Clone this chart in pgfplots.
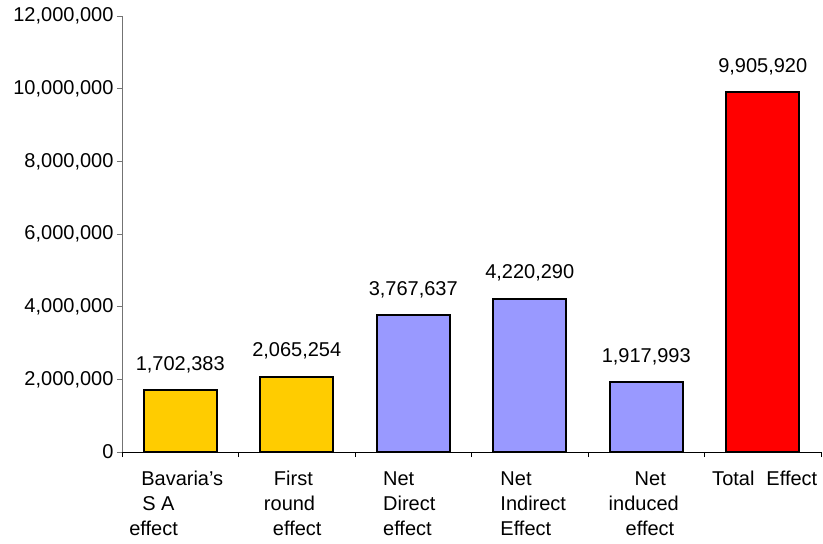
\documentclass[border=0pt]{standalone}
\usepackage{pgfplots}
\pgfplotsset{compat=1.18}
\usepackage{pgfplotstable}
\usepackage{fontspec}
\setmainfont{Liberation Sans}
\definecolor{barY}{HTML}{FFCC00}
\definecolor{barB}{HTML}{9999FF}
\definecolor{barR}{HTML}{FF0000}

\pgfplotstableread{
x y label
0 1702383 {1,702,383}
1 2065254 {2,065,254}
}\yellowdata
\pgfplotstableread{
x y label
2 3767637 {3,767,637}
3 4220290 {4,220,290}
4 1917993 {1,917,993}
}\bluedata
\pgfplotstableread{
x y label
5 9905920 {9,905,920}
}\reddata

\begin{document}
\begin{tikzpicture}
\useasboundingbox (-122pt,-92pt) rectangle (701pt,452pt);
\begin{axis}[
  scale only axis, width=699pt, height=436pt,
  at={(0,0)}, anchor=south west,
  xmin=-0.5, xmax=5.5, ymin=0, ymax=12000000,
  axis x line*=bottom, axis y line*=left,
  y axis line style={gray!90!black, line width=0.8pt},
  x axis line style={black, line width=0.8pt},
  ytick={0,2000000,4000000,6000000,8000000,10000000,12000000},
  scaled y ticks=false,
  tick align=outside, major tick length=5pt,
  /pgf/number format/assume math mode=true,
  yticklabel style={/pgf/number format/fixed, /pgf/number format/precision=0, /pgf/number format/1000 sep={,}},
  yticklabel style={font=\fontsize{20}{24}\selectfont, text=black},
  every major y tick/.append style={gray!90!black, line width=0.8pt},
  xtick={-0.5,0.5,1.5,2.5,3.5,4.5,5.5},
  xticklabels={},
  every major x tick/.append style={black, line width=0.8pt},
  extra x ticks={0,1,2,3,4,5},
  extra x tick style={major tick length=0pt},
  extra x tick labels={
    {\begin{tabular}{@{}l@{}}\hspace{12pt}Bavaria’s\\\hspace{13pt}S A\\effect\end{tabular}\hspace{7pt}},
    {\begin{tabular}{@{}l@{}}\hspace{10pt}First\\round\\\hspace{9pt}effect\end{tabular}\hspace{6pt}},
    {\begin{tabular}{@{}l@{}}Net\\Direct\\effect\end{tabular}},
    {\hspace{15pt}\begin{tabular}{@{}l@{}}Net\\Indirect\\Effect\end{tabular}},
    {\hspace{3pt}\begin{tabular}{@{}l@{}}\hspace{26pt}Net\\induced\\\hspace{17pt}effect\end{tabular}},
    {\hspace{12pt}\begin{tabular}{@{}l@{}}Total\hspace{12pt}Effect\end{tabular}}
  },
  xticklabel style={font=\fontsize{20}{25}\selectfont, anchor=north, yshift=-12pt, xshift=-4pt},
  bar shift=0pt,
  every node near coord/.append style={font=\fontsize{20}{24}\selectfont, anchor=base, yshift=20pt, text=black},
  clip=false,
]
\addplot[ybar, bar width=73pt, fill=barY, draw=black, line width=2pt,
  nodes near coords, point meta=explicit symbolic]
  table[x=x, y=y, meta=label]{\yellowdata};
\addplot[ybar, bar width=73pt, fill=barB, draw=black, line width=2pt,
  nodes near coords, point meta=explicit symbolic]
  table[x=x, y=y, meta=label]{\bluedata};
\addplot[ybar, bar width=73pt, fill=barR, draw=black, line width=2pt,
  nodes near coords, point meta=explicit symbolic]
  table[x=x, y=y, meta=label]{\reddata};
\end{axis}
\end{tikzpicture}
\end{document}
